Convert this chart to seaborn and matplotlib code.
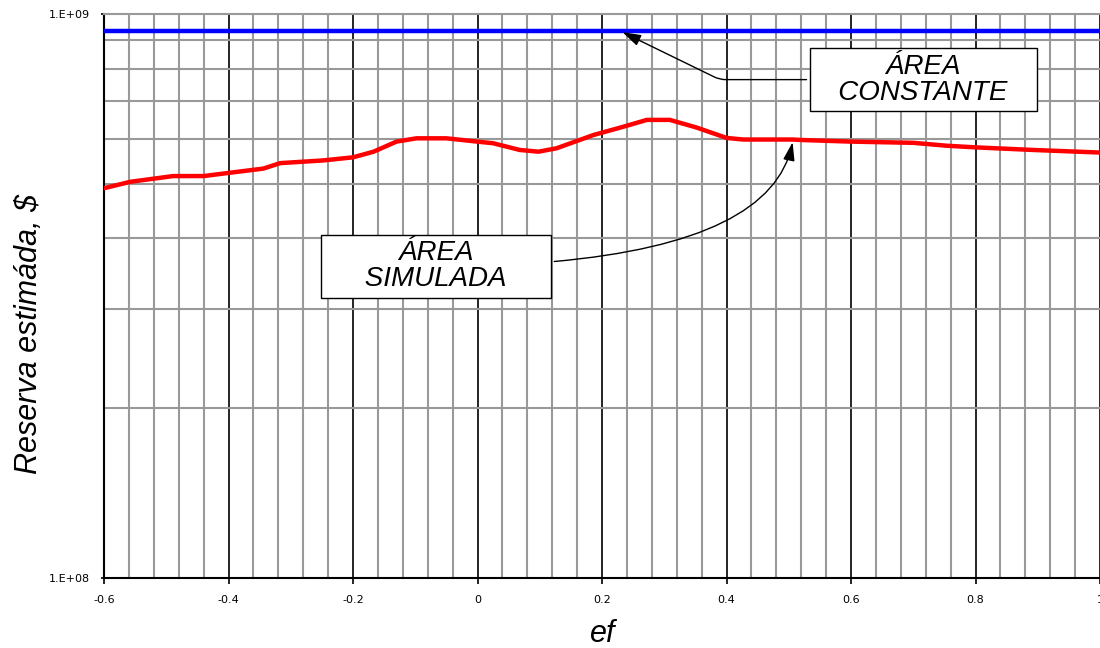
import numpy as np
import pandas as pd
import matplotlib
matplotlib.use("Agg")
import matplotlib.pyplot as plt
from matplotlib.ticker import FixedLocator, NullFormatter
import seaborn as sns

# red curve
ef_sim = [-0.6, -0.558, -0.489, -0.44, -0.398, -0.344, -0.317, -0.248, -0.2, -0.167,
          -0.13, -0.098, -0.05, -0.001, 0.025, 0.068, 0.098, 0.127, 0.186, 0.234,
          0.272, 0.309, 0.352, 0.40, 0.427, 0.507, 0.518, 0.598, 0.70, 0.754,
          0.802, 0.893, 1.0]
reserva_sim = [4.91e8, 5.04e8, 5.16e8, 5.16e8, 5.23e8, 5.32e8, 5.44e8, 5.50e8, 5.57e8, 5.70e8,
               5.94e8, 6.02e8, 6.02e8, 5.94e8, 5.90e8, 5.74e8, 5.70e8, 5.78e8, 6.10e8, 6.31e8,
               6.49e8, 6.49e8, 6.29e8, 6.03e8, 5.99e8, 5.99e8, 5.98e8, 5.94e8, 5.91e8, 5.84e8,
               5.80e8, 5.74e8, 5.68e8]

# blue line, constant area
ef_const = [-0.6, 1.0]
reserva_const = [9.33e8, 9.33e8]

x_major = [-0.6, -0.4, -0.2, 0, 0.2, 0.4, 0.6, 0.8, 1]
x_labels = ["-0.6", "-0.4", "-0.2", "0", "0.2", "0.4", "0.6", "0.8", "1"]
y_major = [1e8, 1e9]
y_labels = ["1.E+08", "1.E+09"]

df_sim = pd.DataFrame({"ef": ef_sim, "reserva": reserva_sim})
df_const = pd.DataFrame({"ef": ef_const, "reserva": reserva_const})

sns.set_style("white")
plt.rcParams["font.family"] = ["DejaVu Sans"]
plt.rcParams["text.color"] = "black"
plt.rcParams["axes.labelcolor"] = "black"
plt.rcParams["xtick.color"] = "black"
plt.rcParams["ytick.color"] = "black"

fig = plt.figure(figsize=(11, 6.48), dpi=100)
ax = fig.add_axes([104 / 1100, 70 / 648, 996 / 1100, 564 / 648])

ax.set_yscale("log")
ax.set_xlim(-0.6, 1.0)
ax.set_ylim(1e8, 1e9)

# grid
ax.set_xticks(x_major)
ax.set_xticklabels(x_labels)
ax.xaxis.set_minor_locator(FixedLocator(np.arange(-0.6, 1.001, 0.04)))
ax.yaxis.set_major_locator(FixedLocator(y_major))
ax.set_yticklabels(y_labels)
ax.yaxis.set_minor_locator(FixedLocator([k * 1e8 for k in range(2, 10)]))
ax.yaxis.set_minor_formatter(NullFormatter())
ax.grid(which="minor", color="#999999", lw=1.5)
ax.grid(which="major", axis="x", color="black", lw=1.2)
ax.set_axisbelow(True)

sns.lineplot(data=df_const, x="ef", y="reserva", color="#0000ff", lw=3.2, ax=ax, zorder=3)
sns.lineplot(data=df_sim, x="ef", y="reserva", color="#ff0000", lw=3.2, ax=ax, zorder=3)

for s in ["left", "bottom"]:
    ax.spines[s].set_color("black")
    ax.spines[s].set_linewidth(1.5)
ax.spines["top"].set_color("#999999")
ax.spines["top"].set_linewidth(1.5)
ax.spines["right"].set_visible(False)

ax.tick_params(axis="x", which="major", length=4, width=1.2, pad=8, labelsize=8,
               color="black", labelcolor="black")
ax.tick_params(axis="y", which="major", length=2, width=1.2, pad=8, labelsize=8,
               color="black", labelcolor="black")
ax.tick_params(which="minor", length=0)
ax.tick_params(bottom=True, left=True)

lab_font = {"family": ["Liberation Sans"], "style": "italic", "size": 22, "color": "black"}
ax.set_xlabel("ef", fontdict=lab_font)
ax.set_ylabel("Reserva estimáda, $", fontdict=lab_font)
ax.xaxis.set_label_coords(0.501, -0.072)
ax.yaxis.set_label_coords(-0.06, 0.432)

box = dict(boxstyle="square,pad=0.2", fc="white", ec="black", lw=1)
ann_font = dict(family=["Liberation Sans"], style="italic", size=20, linespacing=1.0, color="black")
nb = "\u00a0"

ax.annotate("ÁREA\n" + nb * 3 + "CONSTANTE" + nb * 3, xy=(0.229, 9.33e8), xytext=(0.716, 7.65e8),
            ha="center", va="center", bbox=box, zorder=5, **ann_font,
            arrowprops=dict(arrowstyle="-|>,head_length=0.7,head_width=0.22", color="black",
                            lw=1, mutation_scale=16,
                            connectionstyle="angle,angleA=0,angleB=-26,rad=6"))

ax.annotate("ÁREA\n" + nb * 5 + "SIMULADA" + nb * 5, xy=(0.507, 5.99e8), xytext=(-0.067, 3.57e8),
            ha="center", va="center", bbox=box, zorder=5, **ann_font,
            arrowprops=dict(arrowstyle="-|>,head_length=0.7,head_width=0.22", color="black",
                            lw=1, mutation_scale=16,
                            connectionstyle="angle3,angleA=0,angleB=80"))

fig.savefig("out.png", dpi=100)
